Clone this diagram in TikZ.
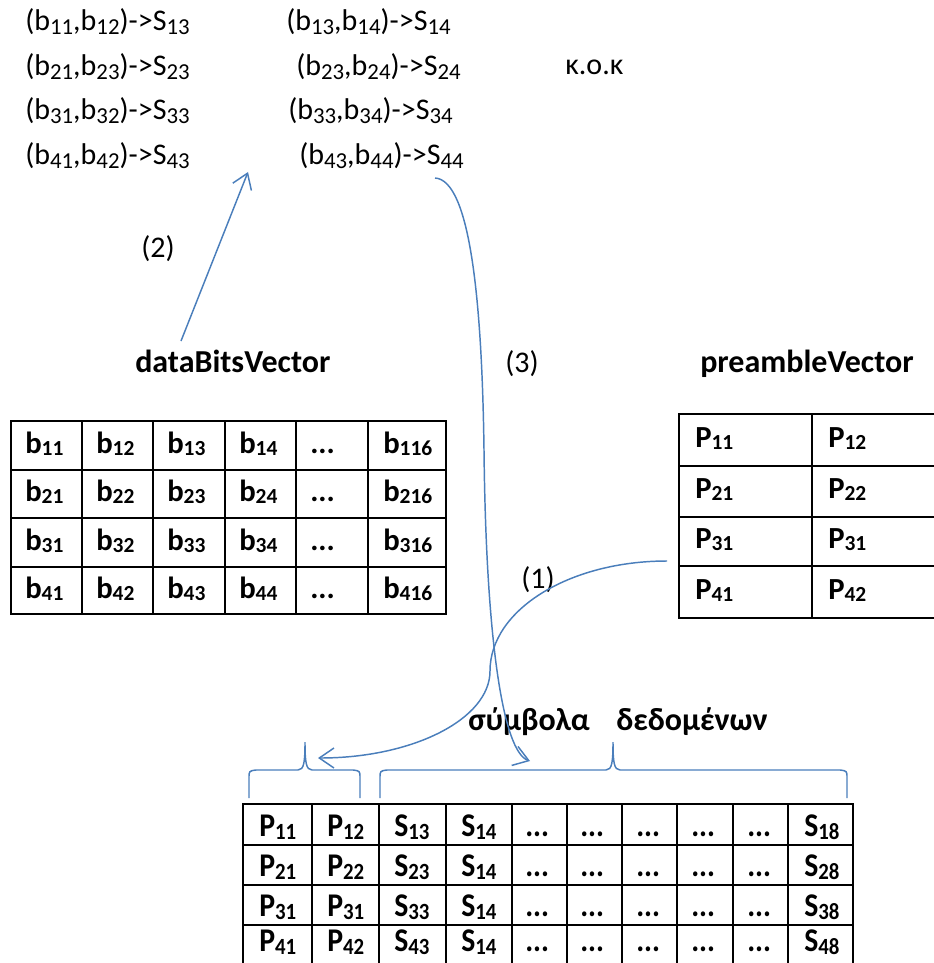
\documentclass[tikz,border=0pt]{standalone}
\usepackage{fontspec}
\setmainfont{Carlito}
\usepackage{xcolor}
\usepackage{tikz}
\usetikzlibrary{arrows.meta}

\definecolor{linkblue}{HTML}{4A7EBB}
\newcommand{\lo}[1]{\raisebox{-0.25ex}{\scalebox{0.76}{#1}}}  % subscripts in the mapping lines
\newcommand{\tlo}[1]{\raisebox{-0.2ex}{\scalebox{0.7}{#1}}}  % subscripts in the tables

\tikzset{
    txt/.style={anchor=base west, inner sep=0pt, font=\fontsize{22.5}{26}\selectfont},
    lbl/.style={anchor=base west, inner sep=0pt, font=\fontsize{24}{28}\selectfont\bfseries},
    cell/.style={anchor=base west, inner sep=0pt, font=\fontsize{23}{27}\selectfont\bfseries},
    scell/.style={cell, xscale=0.97, yscale=1.08},
    grid/.style={line width=1.5pt, line cap=rect},
    conn/.style={draw=linkblue, line width=1.1pt, -{Straight Barb[length=11pt,width=15pt]}},
    brace/.style={draw=linkblue, line width=1.1pt},
}

\begin{document}
\begin{tikzpicture}[x=0.75pt, y=-0.75pt]
    \useasboundingbox (0,0) rectangle (933,963);

    % mapping of bit pairs to symbols
    \node[txt] (m11) at (25,31)  {(b\lo{11},b\lo{12})->S\lo{13}};
    \node[txt] (m12) at (286,31) {(b\lo{13},b\lo{14})->S\lo{14}};
    \node[txt] (m21) at (25,76)  {(b\lo{21},b\lo{23})->S\lo{23}};
    \node[txt] (m22) at (296,76) {(b\lo{23},b\lo{24})->S\lo{24}};
    \node[txt] (m31) at (25,120) {(b\lo{31},b\lo{32})->S\lo{33}};
    \node[txt] (m32) at (288,120) {(b\lo{33},b\lo{34})->S\lo{34}};
    \node[txt] (m41) at (25,165) {(b\lo{41},b\lo{42})->S\lo{43}};
    \node[txt] (m42) at (299,165) {(b\lo{43},b\lo{44})->S\lo{44}};
    \node[txt] (kok) at (565,75) {κ.ο.κ};

    \node[txt] (step2) at (141,257) {(2)};
    \node[txt] (step3) at (505,372) {(3)};
    \node[txt] (step1) at (521,588) {(1)};

    \node[lbl] (dataname) at (135,372) {dataBitsVector};
    \node[lbl] (prename) at (700,372) {preambleVector};
    \node[lbl] (symname) at (468,730) {σύμβολα\hspace{20pt}δεδομένων};

    % dataBitsVector table
    \foreach \y in {421,470,518,567,614} \draw[grid] (11,\y) -- (446,\y);
    \foreach \x in {11,82,153,225,296,368,446} \draw[grid] (\x,421) -- (\x,614);
    \foreach \r/\y in {1/453,2/501,3/550,4/598}{
        \foreach \c/\x in {1/25,2/96,3/167,4/239}
            \node[cell] (b\r\c) at (\x,\y) {b\tlo{\r\c}};
        \node[cell] (b\r5) at (310,\y) {...};
        \node[cell] (b\r6) at (383,\y) {b\tlo{\r16}};
    }

    % preambleVector table
    \foreach \y in {414,466,517,566,618} \draw[grid] (679,\y) -- (945,\y);
    \foreach \x in {679,812} \draw[grid] (\x,414) -- (\x,618);
    \foreach \r/\y/\b in {1/447/12,2/498/22,3/548/31,4/599/42}{
        \node[cell] (p\r1) at (695,\y) {P\tlo{\r1}};
        \node[cell] (p\r2) at (828,\y) {P\tlo{\b}};
    }

    % frame: preamble + data symbols
    \foreach \y in {804,845,885,925,965} \draw[grid] (243,\y) -- (853,\y);
    \foreach \x in {243,312,379,446,512,567,622,677,733,788,853} \draw[grid] (\x,804) -- (\x,965);
    \foreach \r/\y/\b/\s in {1/836/12/13,2/876/22/23,3/916/31/33,4/951/42/43}{
        \node[scell] (f\r1) at (259,\y) {P\tlo{\r1}};
        \node[scell] (f\r2) at (327,\y) {P\tlo{\b}};
        \node[scell] (f\r3) at (394,\y) {S\tlo{\s}};
        \node[scell] (f\r4) at (461,\y) {S\tlo{14}};
        \foreach \c/\x in {5/525,6/580,7/636,8/691,9/747}
            \node[scell] (f\r\c) at (\x,\y) {...};
        \node[scell] (f\r10) at (804,\y) {S\tlo{\r8}};
    }

    % braces over the frame
    \draw[brace] (249,798) -- (249,778) .. controls (249,771) .. (256,770) -- (298,770)
        .. controls (304,770) and (305,762) .. (305,742)
        .. controls (305,762) and (306,770) .. (312,770) -- (353,770)
        .. controls (360,771) .. (360,778) -- (360,798);
    \draw[brace] (380,798) -- (380,778) .. controls (380,771) .. (387,770) -- (606,770)
        .. controls (612,770) and (613,762) .. (613,742)
        .. controls (613,762) and (614,770) .. (620,770) -- (840,770)
        .. controls (847,771) .. (847,778) -- (847,798);

    % arrows
    \coordinate (from2) at (181,341);
    \coordinate (to2) at (248,172);
    \coordinate (from3) at (435,178);
    \coordinate (to3) at (530,761);
    \coordinate (from1) at (667,561);
    \coordinate (to1) at (318,758);

    \draw[conn] (from2) -- (to2); % data bits into pairs
    \draw[conn] (from3) .. controls (470,180) and (482,300) .. (484,450)
        .. controls (486,640) and (503,752) .. (to3); % symbols into frame
    \draw[conn] (from1) .. controls (569,561) and (490,610) .. (490,671)
        .. controls (490,719) and (413,758) .. (to1); % preamble into frame
\end{tikzpicture}
\end{document}
